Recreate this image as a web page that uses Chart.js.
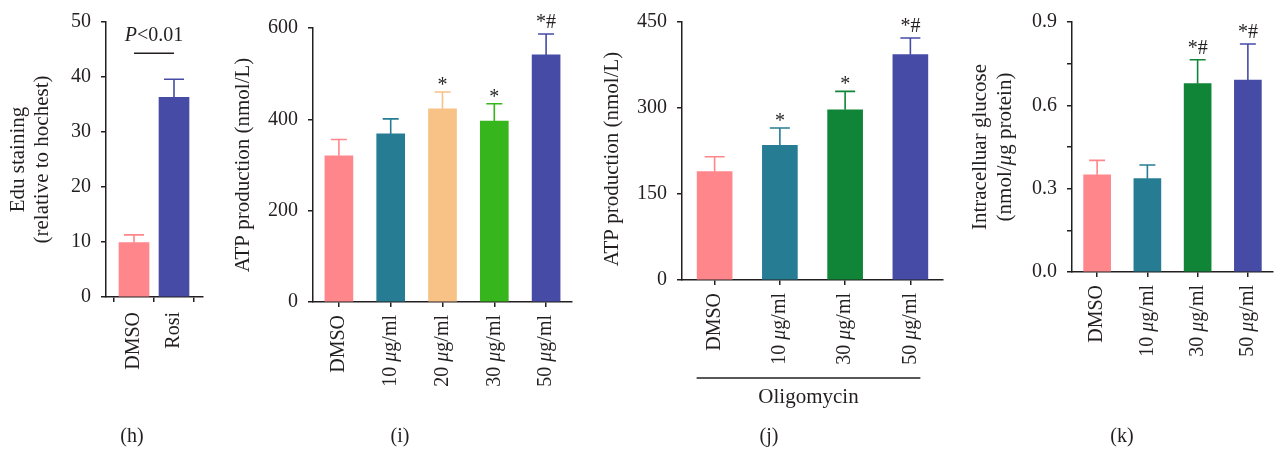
<!DOCTYPE html>
<html><head><meta charset="utf-8">
<script src="https://cdn.jsdelivr.net/npm/chart.js@4.4.0/dist/chart.umd.min.js"></script>
<style>
html,body{margin:0;padding:0;background:#fff;width:1274px;height:451px;overflow:hidden;position:relative}
.p{position:absolute;top:0}
canvas{display:block}
</style></head><body>
<div class="p" style="left:0px"><canvas id="ch" width="210" height="451"></canvas></div>
<div class="p" style="left:215px"><canvas id="ci" width="365" height="451"></canvas></div>
<div class="p" style="left:585px"><canvas id="cj" width="360" height="451"></canvas></div>
<div class="p" style="left:955px"><canvas id="ck" width="319" height="451"></canvas></div>
<script>
const FONT = "'Liberation Serif', 'Times New Roman', serif";
const INK = '#231f20';
const FS = 20;   // ticks, category labels, marks
const FT = 21;   // axis titles

// ---- panel (h)
const hCategories = ['DMSO', 'Rosi'];
const hMeans = [9.9, 36.3];
const hSD = [1.4, 3.3];
const hColors = ['#ff878b', '#464ba6'];
const hBracketValue = 44.3;

// ---- panel (i)
const iCategories = ['DMSO', '10 μg/ml', '20 μg/ml', '30 μg/ml', '50 μg/ml'];
const iMeans = [320, 368, 423, 396, 541];
const iSD = [36, 33, 37, 38, 46];
const iMarks = ['', '', '*', '*', '*#'];
const iColors = ['#ff878b', '#267c93', '#f8c185', '#37b51c', '#464ba6'];

// ---- panel (j)
const jCategories = ['DMSO', '10 μg/ml', '30 μg/ml', '50 μg/ml'];
const jMeans = [189, 235, 297, 393];
const jSD = [26, 30, 32, 29];
const jMarks = ['', '*', '*', '*#'];
const jColors = ['#ff878b', '#267c93', '#118537', '#464ba6'];

// ---- panel (k)
const kCategories = ['DMSO', '10 μg/ml', '30 μg/ml', '50 μg/ml'];
const kMeans = [0.350, 0.336, 0.678, 0.691];
const kSD = [0.052, 0.049, 0.086, 0.130];
const kMarks = ['', '', '*#', '*#'];
const kColors = ['#ff878b', '#267c93', '#118537', '#464ba6'];

function parts(str) {
  const out = []; let cur = '', it = false;
  for (const ch of str) {
    const isIt = ch === 'μ';
    if (isIt !== it && cur) { out.push({t: cur, it}); cur = ''; }
    it = isIt; cur += ch;
  }
  if (cur) out.push({t: cur, it});
  return out;
}
function drawParts(ctx, ps, x, y, align, size) {
  const f = it => (it ? 'italic ' : '') + size + 'px ' + FONT;
  let w = 0;
  ps.forEach(p => { ctx.font = f(p.it); p.w = ctx.measureText(p.t).width; w += p.w; });
  let sx = align === 'right' ? x - w : align === 'center' ? x - w / 2 : x;
  ctx.textAlign = 'left';
  ps.forEach(p => { ctx.font = f(p.it); ctx.fillText(p.t, sx, y); sx += p.w; });
}

const decor = {
  id: 'decor',
  afterDatasetsDraw(chart, args, o) {
    const ctx = chart.ctx, xs = chart.scales.x, ys = chart.scales.y;
    const colors = chart.data.datasets[0].backgroundColor;
    ctx.save();
    ctx.fillStyle = INK;
    o.labels.forEach((lab, i) => {
      const cx = xs.getPixelForValue(i);
      const yTop = ys.getPixelForValue(o.means[i]);
      const yErr = ys.getPixelForValue(o.means[i] + o.sd[i]);
      ctx.strokeStyle = colors[i];
      ctx.lineWidth = 1.6;
      ctx.beginPath();
      ctx.moveTo(cx, yTop); ctx.lineTo(cx, yErr);
      ctx.moveTo(cx - o.cap, yErr); ctx.lineTo(cx + o.cap, yErr);
      ctx.stroke();
      const m = (o.marks || [])[i];
      if (m) {
        ctx.font = FS + 'px ' + FONT; ctx.textAlign = 'center'; ctx.textBaseline = 'alphabetic';
        ctx.fillText(m, cx, yErr - (m.length > 1 ? 6 : 1));
      }
      ctx.save();
      ctx.translate(cx, ys.bottom + o.gap);
      ctx.rotate(-Math.PI / 2);
      ctx.textBaseline = 'middle';
      drawParts(ctx, parts(lab), 0, 0, 'right', FS);
      ctx.restore();
    });
    // y title
    const cy = (ys.top + ys.bottom) / 2 + (o.titleDy || 0);
    o.title.forEach((line, k) => {
      ctx.save();
      ctx.translate(o.titleX[k], cy);
      ctx.rotate(-Math.PI / 2);
      ctx.textBaseline = 'middle';
      drawParts(ctx, parts(line), 0, 0, 'center', FT);
      ctx.restore();
    });
    // panel label
    ctx.font = FS + 'px ' + FONT; ctx.textAlign = 'center'; ctx.textBaseline = 'middle';
    ctx.fillText(o.panel[0], o.panel[1], o.panel[2]);
    if (o.extra) o.extra(ctx, xs, ys);
    ctx.restore();
  }
};

function yAxis(min, max, step, width, fmt) {
  return {
    min, max,
    ticks: {stepSize: step, font: {family: FONT, size: FS}, color: INK, padding: 10,
      callback: fmt || (v => v)},
    grid: {drawOnChartArea: false, tickLength: 5, color: INK, lineWidth: 1.5},
    border: {color: INK, width: 1.5},
    afterFit(s) { s.width = width; }
  };
}
function xCat(height) {
  return {
    type: 'category', offset: true,
    ticks: {display: false},
    grid: {offset: false, drawOnChartArea: false, tickLength: 5, color: INK, lineWidth: 1.5},
    border: {color: INK, width: 1.5},
    afterFit(s) { s.height = height; }
  };
}
function base(padRight, padTop) {
  return {
    responsive: false, animation: false, devicePixelRatio: 1,
    layout: {padding: {left: 0, right: padRight, top: padTop, bottom: 0}},
    plugins: {legend: {display: false}, title: {display: false}, tooltip: {enabled: false}}
  };
}

// (h)
{
  const opts = base(7, 18);
  opts.scales = {
    x: {type: 'linear', min: -0.7, max: 1.725, offset: false,
      afterBuildTicks(s) { s.ticks = hCategories.map((c, i) => ({value: i})); },
      ticks: {display: false},
      grid: {drawOnChartArea: false, tickLength: 5, color: INK, lineWidth: 1.5},
      border: {color: INK, width: 1.5},
      afterFit(s) { s.height = 451 - 297; }},
    y: yAxis(0, 50, 10, 106)
  };
  opts.plugins.decor = {
    labels: hCategories, means: hMeans, sd: hSD, cap: 10, gap: 15,
    title: ['Edu staining', '(relative to hochest)'], titleX: [18, 42],
    panel: ['(h)', 132, 437],
    extra(ctx, xs, ys) {
      const y = ys.getPixelForValue(hBracketValue);
      const x0 = xs.getPixelForValue(0), x1 = xs.getPixelForValue(1);
      ctx.strokeStyle = INK; ctx.lineWidth = 1.5;
      ctx.beginPath(); ctx.moveTo(x0, y); ctx.lineTo(x1, y); ctx.stroke();
      ctx.fillStyle = INK; ctx.textBaseline = 'alphabetic';
      const ps = [{t: 'P', it: true}, {t: '<0.01', it: false}];
      drawParts(ctx, ps, (x0 + x1) / 2, y - 12, 'center', FS);
    }
  };
  new Chart(document.getElementById('ch'), {
    type: 'bar',
    data: {datasets: [{data: hMeans.map((v, i) => ({x: i, y: v})), backgroundColor: hColors, barThickness: 30, borderWidth: 0}]},
    options: opts, plugins: [decor]
  });
}

// (i)
{
  const opts = base(8, 28);
  opts.scales = {x: xCat(451 - 302), y: yAxis(0, 600, 200, 98)};
  opts.plugins.decor = {
    labels: iCategories, means: iMeans, sd: iSD, marks: iMarks, cap: 8, gap: 13,
    title: ['ATP production (nmol/L)'], titleX: [28],
    panel: ['(i)', 185, 437]
  };
  new Chart(document.getElementById('ci'), {
    type: 'bar',
    data: {labels: iCategories, datasets: [{data: iMeans, backgroundColor: iColors, barThickness: 28, borderWidth: 0}]},
    options: opts, plugins: [decor]
  });
}

// (j)
{
  const opts = base(2, 18);
  opts.scales = {x: xCat(451 - 280), y: yAxis(0, 450, 150, 97)};
  opts.plugins.decor = {
    labels: jCategories, means: jMeans, sd: jSD, marks: jMarks, cap: 10, gap: 13,
    title: ['ATP production (nmol/L)'], titleX: [27], titleDy: 8,
    panel: ['(j)', 184, 437],
    extra(ctx, xs, ys) {
      const x0 = xs.getPixelForValue(0) - 18, x1 = xs.getPixelForValue(jCategories.length - 1) + 10;
      ctx.strokeStyle = INK; ctx.lineWidth = 1.5;
      ctx.beginPath(); ctx.moveTo(x0, 378); ctx.lineTo(x1, 378); ctx.stroke();
      ctx.fillStyle = INK; ctx.font = FT + 'px ' + FONT; ctx.textAlign = 'center'; ctx.textBaseline = 'middle';
      ctx.fillText('Oligomycin', (x0 + x1) / 2, 397);
    }
  };
  new Chart(document.getElementById('cj'), {
    type: 'bar',
    data: {labels: jCategories, datasets: [{data: jMeans, backgroundColor: jColors, barThickness: 35, borderWidth: 0}]},
    options: opts, plugins: [decor]
  });
}

// (k)
{
  const opts = base(1, 18);
  opts.scales = {x: xCat(451 - 272), y: yAxis(0, 0.9, 0.15, 117, (v, idx) => idx % 2 === 0 ? v.toFixed(1) : '')};
  opts.plugins.decor = {
    labels: kCategories, means: kMeans, sd: kSD, marks: kMarks, cap: 8, gap: 13,
    title: ['Intracelluar glucose', '(nmol/μg protein)'], titleX: [25, 50],
    panel: ['(k)', 167, 437]
  };
  new Chart(document.getElementById('ck'), {
    type: 'bar',
    data: {labels: kCategories, datasets: [{data: kMeans, backgroundColor: kColors, barThickness: 27, borderWidth: 0}]},
    options: opts, plugins: [decor]
  });
}
</script>
</body></html>
